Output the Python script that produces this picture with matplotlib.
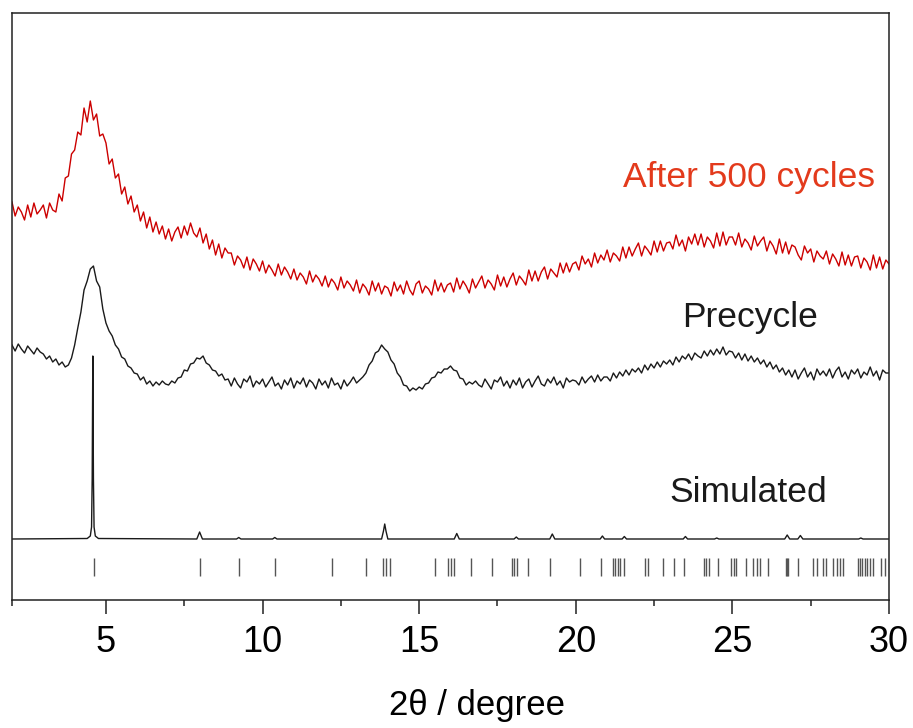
import numpy as np
import matplotlib
matplotlib.use("Agg")
import matplotlib.pyplot as plt
from matplotlib.ticker import FixedLocator

plt.rcParams['font.family'] = ['Liberation Sans', 'DejaVu Sans']

# 2-theta grid of the measured patterns (0.1 deg steps, 2 -> 30)
two_theta = np.round(np.arange(2.0, 30.05, 0.1), 1)

# Precycle pattern (a.u.)
precycle = [
    55, 49, 56, 51, 47, 54, 50, 46, 52, 48,
    46, 41, 44, 38, 41, 35, 38, 33, 35, 42,
    55, 72, 88, 110, 119, 131, 134, 119, 113, 91,
    77, 69, 64, 55, 51, 43, 41, 34, 32, 27,
    26, 20, 23, 16, 19, 14, 18, 15, 19, 16,
    15, 19, 17, 22, 23, 30, 29, 36, 37, 42,
    41, 44, 37, 35, 30, 29, 24, 26, 20, 21,
    14, 22, 16, 12, 21, 18, 24, 13, 19, 16,
    21, 13, 18, 23, 14, 17, 11, 20, 15, 22,
    12, 19, 16, 22, 13, 20, 17, 11, 21, 15,
    19, 12, 22, 15, 17, 11, 20, 14, 18, 23,
    17, 20, 23, 27, 35, 39, 47, 49, 55, 51,
    48, 40, 36, 27, 23, 15, 14, 9, 12, 10,
    13, 11, 16, 17, 22, 23, 28, 27, 31, 31,
    34, 30, 29, 22, 21, 15, 18, 16, 19, 15,
    13, 21, 16, 11, 20, 18, 23, 14, 19, 12,
    20, 15, 22, 12, 18, 21, 13, 19, 24, 16,
    14, 21, 17, 23, 15, 19, 12, 22, 18, 20,
    19, 15, 23, 17, 21, 24, 18, 25, 19, 23,
    23, 19, 27, 22, 28, 24, 30, 25, 31, 28,
    32, 27, 35, 30, 36, 32, 38, 33, 39, 36,
    40, 35, 43, 38, 44, 41, 46, 40, 47, 44,
    42, 49, 44, 50, 45, 51, 46, 53, 45, 49,
    48, 42, 47, 40, 46, 39, 44, 38, 42, 36,
    40, 33, 38, 31, 35, 28, 32, 25, 30, 23,
    30, 21, 27, 32, 23, 28, 20, 31, 25, 29,
    24, 31, 22, 29, 33, 23, 28, 21, 30, 26,
    31, 22, 28, 25, 33, 24, 29, 20, 30, 27,
    27,
]

# After 500 cycles pattern (a.u.)
after_500 = [
    98, 84, 93, 88, 80, 95, 83, 97, 86, 90,
    95, 82, 97, 90, 88, 106, 99, 122, 124, 146,
    150, 168, 165, 192, 178, 199, 180, 186, 164, 166,
    157, 136, 141, 122, 126, 106, 113, 96, 104, 88,
    95, 79, 88, 72, 83, 68, 78, 66, 74, 61,
    71, 59, 68, 73, 62, 74, 65, 77, 67, 63,
    72, 57, 66, 51, 60, 45, 56, 42, 52, 47,
    47, 35, 44, 40, 32, 43, 30, 41, 36, 29,
    39, 27, 35, 30, 24, 36, 25, 33, 28, 21,
    31, 20, 27, 23, 16, 29, 18, 25, 21, 14,
    24, 13, 21, 17, 10, 23, 12, 19, 15, 9,
    20, 7, 16, 12, 5, 19, 9, 17, 6, 14,
    12, 4, 18, 9, 15, 6, 19, 10, 5, 16,
    19, 7, 14, 11, 5, 20, 9, 17, 8, 15,
    17, 8, 22, 11, 19, 14, 7, 21, 12, 18,
    24, 12, 20, 16, 10, 25, 14, 23, 13, 21,
    27, 15, 24, 20, 15, 30, 19, 29, 19, 28,
    33, 21, 31, 27, 23, 37, 27, 37, 28, 36,
    38, 30, 44, 36, 41, 33, 47, 37, 45, 40,
    50, 38, 47, 44, 39, 53, 42, 53, 44, 51,
    57, 44, 54, 50, 45, 59, 48, 59, 49, 57,
    58, 51, 65, 54, 60, 49, 63, 56, 66, 55,
    66, 53, 63, 59, 52, 67, 54, 68, 55, 63,
    63, 55, 67, 53, 61, 57, 50, 64, 54, 59,
    63, 49, 59, 54, 46, 61, 47, 58, 46, 55,
    53, 45, 40, 54, 47, 51, 38, 49, 44, 41,
    49, 36, 46, 41, 34, 48, 35, 45, 34, 43,
    44, 32, 42, 38, 30, 45, 32, 43, 31, 40,
    36,
]

# Simulated pattern (a.u.)
sim_x = [2.0,
         4.40, 4.50, 4.54, 4.56, 4.58, 4.60, 4.62, 4.66, 4.76,
         7.90, 7.99, 8.08,
         9.17, 9.24, 9.31,
         10.32, 10.39, 10.46,
         13.80, 13.86, 13.90, 13.94, 14.00,
         16.12, 16.20, 16.28,
         18.03, 18.10, 18.17,
         19.17, 19.25, 19.33,
         20.78, 20.85, 20.92,
         21.48, 21.55, 21.62,
         23.43, 23.50, 23.57,
         24.43, 24.50, 24.57,
         26.67, 26.75, 26.83,
         27.09, 27.17, 27.25,
         29.03, 29.10, 29.17,
         30.0]
sim_y = [0,
         0.5, 3, 12, 60, 183, 60, 12, 3, 0.5,
         0, 7, 0,
         0, 1.5, 0,
         0, 1.5, 0,
         0, 8, 15, 8, 0,
         0, 5.5, 0,
         0, 2, 0,
         0, 5, 0,
         0, 3, 0,
         0, 2.5, 0,
         0, 2.5, 0,
         0, 1, 0,
         0, 4, 0,
         0, 3.5, 0,
         0, 1, 0,
         0]

# Calculated reflection positions (2-theta)
bragg = [4.63, 7.99, 9.24, 10.39, 12.21, 13.29, 13.83, 13.94, 14.07,
         15.52, 15.93, 16.02, 16.11, 16.64, 17.31, 17.96, 18.04, 18.13,
         18.48, 19.19, 20.15, 20.82, 21.19, 21.25, 21.34, 21.42, 21.53,
         22.22, 22.32, 22.80, 23.12, 23.44, 24.08, 24.16, 24.24, 24.55,
         24.97, 25.06, 25.13, 25.45, 25.66, 25.77, 25.88, 26.15, 26.71,
         26.75, 26.78, 27.10, 27.58, 27.69, 27.90, 27.99, 28.22, 28.33,
         28.43, 28.54, 29.01, 29.08, 29.15, 29.22, 29.30, 29.38, 29.49,
         29.75, 29.87]

labels = ["After 500 cycles", "Precycle", "Simulated"]

# stacking offsets
off_sim, off_pre, off_after = 61, 200, 300

fig = plt.figure(figsize=(9.13, 7.28), dpi=100)
ax = fig.add_axes([12 / 913, 128 / 728, 877 / 913, 587 / 728])

ax.plot(two_theta, np.array(after_500) + off_after, color='#cc0000', lw=1.0)
ax.plot(two_theta, np.array(precycle) + off_pre, color='#1a1a1a', lw=1.0)
ax.plot(sim_x, np.array(sim_y) + off_sim, color='#1a1a1a', lw=1.0)
ax.vlines(bragg, 24, 42, color='#555555', lw=1.0)

ax.text(25.53, 422, labels[0], color='#e33a1c', fontsize=25.5, ha='center', va='center')
ax.text(25.56, 282, labels[1], color='#1a1a1a', fontsize=25.5, ha='center', va='center')
ax.text(25.5, 108, labels[2], color='#1a1a1a', fontsize=25.5, ha='center', va='center')

ax.set_xlim(2, 30)
ax.set_ylim(0, 587)
ax.set_yticks([])
ax.set_xticks([5, 10, 15, 20, 25, 30])
ax.xaxis.set_minor_locator(FixedLocator([2, 7.5, 12.5, 17.5, 22.5, 27.5]))
ax.tick_params(axis='x', which='major', direction='out', length=10, width=1.1,
               labelsize=26, pad=8, color='#222222')
ax.tick_params(axis='x', which='minor', direction='out', length=4.5, width=1.1,
               color='#222222')
for sp in ax.spines.values():
    sp.set_linewidth(1.1)
    sp.set_color('#222222')

ax.set_xlabel("2θ / degree", fontsize=25)
ax.xaxis.set_label_coords(0.53, -0.152)

fig.savefig("out.png", dpi=100)
